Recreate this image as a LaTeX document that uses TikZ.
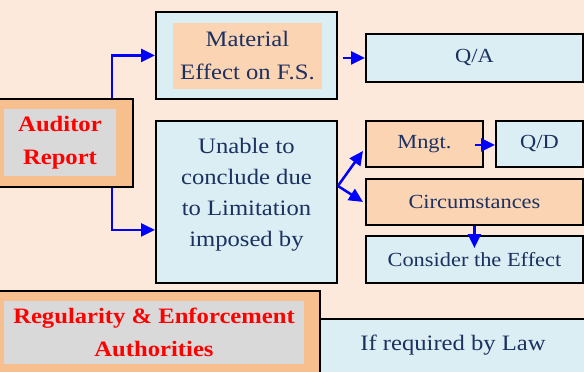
\documentclass[tikz,border=0pt]{standalone}
\usepackage{fontspec}
\setmainfont[FakeStretch=1.12]{Liberation Serif}
\usetikzlibrary{arrows.meta,calc}

\definecolor{bgpeach}{HTML}{FCE9DB}
\definecolor{boxblue}{HTML}{DAEEF3}
\definecolor{boxorange}{HTML}{FBD4B4}
\definecolor{boxtan}{HTML}{F8BF8E}
\definecolor{labelgray}{HTML}{D9D9D9}
\definecolor{navytext}{HTML}{1B3160}
\definecolor{arrowblue}{HTML}{0000FF}
\definecolor{alertred}{HTML}{FF0000}

\tikzset{
  frame/.style={draw=black, line width=1.9pt, inner sep=0pt, anchor=north west},
  bluebox/.style={frame, fill=boxblue},
  orangebox/.style={frame, fill=boxorange},
  tanbox/.style={frame, fill=boxtan},
  panel/.style={inner sep=0pt, draw=none},
  bigtext/.style={text=navytext, align=center, font=\fontsize{22}{33}\selectfont},
  smalltext/.style={text=navytext, align=center, font=\fontsize{20}{26}\selectfont},
  redtext/.style={text=alertred, align=center, font=\bfseries\fontsize{22}{32.5}\selectfont},
  flow/.style={draw=arrowblue, line width=2.5pt, -{Triangle[length=14pt,width=13pt]}},
}

\begin{document}
\begin{tikzpicture}[x=1pt, y=-1pt]
  % canvas
  \fill[bgpeach] (0,0) rectangle (584,372);
  \useasboundingbox (0,0) rectangle (584,372);

  % material effect branch
  \node[bluebox, minimum width=181pt, minimum height=87pt] (material) at (155,11) {};
  \node[panel, fill=boxorange, minimum width=149pt, minimum height=66pt, bigtext] (materialtxt)
    at ($(material.center)+(1,0.5)$) {Material\\Effect on F.S.};
  \node[bluebox, minimum width=217pt, minimum height=48pt, smalltext] (qa) at (365,33) {Q/A};

  % auditor report
  \node[tanbox, minimum width=134pt, minimum height=88pt] (auditor) at (-2,98) {};
  \node[panel, fill=labelgray, minimum width=112pt, minimum height=67pt, redtext] (auditortxt)
    at (60,142.5) {Auditor\\Report};

  % limitation branch
  \node[bluebox, minimum width=181pt, minimum height=162pt] (unable) at (155,120) {};
  \node[bigtext, font=\fontsize{22}{31}\selectfont] (unabletxt) at ($(unable.center)+(0,-7.5)$)
    {Unable to\\conclude due\\to Limitation\\imposed by};
  \node[orangebox, minimum width=117pt, minimum height=46pt, smalltext] (mngt) at (365,120) {Mngt.};
  \node[bluebox, minimum width=87pt, minimum height=46pt, smalltext] (qd) at (495,120) {Q/D};
  \node[orangebox, minimum width=217pt, minimum height=46pt, smalltext] (circ) at (365,178) {Circumstances};
  \node[bluebox, minimum width=217pt, minimum height=47pt, smalltext] (consider) at (365,235) {Consider the Effect};

  % regulators
  \node[tanbox, minimum width=321pt, minimum height=84pt] (regul) at (-2,290) {};
  \node[panel, fill=labelgray, minimum width=300pt, minimum height=63pt, redtext, font=\bfseries\fontsize{22}{33}\selectfont]
    (regultxt) at (154,332.5) {Regularity \& Enforcement\\Authorities};
  \node[bluebox, minimum width=267pt, minimum height=56pt] (law) at (319,318) {};
  \node[bigtext] (lawtxt) at (453,345) {If required by Law};

  % connectors
  \draw[flow] ([xshift=-22pt]auditor.north east) |- (material.west);
  \draw[flow] ([xshift=-22pt]auditor.south east) |- ([yshift=54pt]unable.south west);
  \draw[flow] ($(material.east|-qa.west)+(5,0)$) -- (qa.west);
  \draw[flow] ([yshift=16pt]unable.east) -- ([xshift=-2pt,yshift=-7pt]mngt.west);
  \draw[flow] ([yshift=16pt]unable.east) -- ([xshift=-2pt]circ.west);
  \draw[flow] ($(mngt.east)+(-9,1)$) -- ($(qd.west)+(0,1)$);
  \draw[flow] (circ.south) -- ($(consider.north)+(0,13)$);
\end{tikzpicture}
\end{document}
